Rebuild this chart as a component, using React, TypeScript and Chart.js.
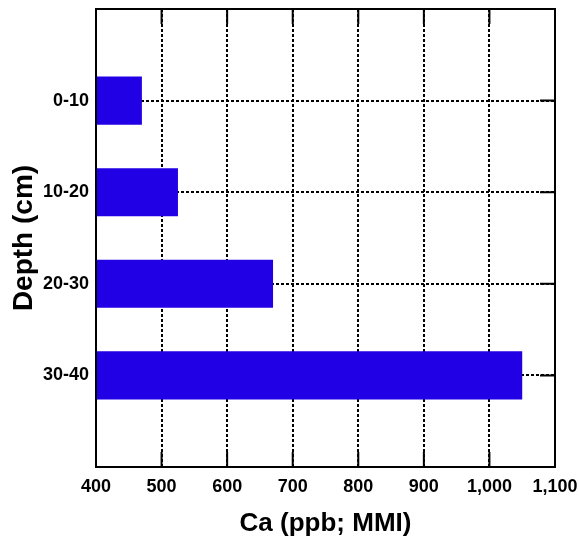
import React, { useEffect, useRef } from "react";
import { Chart, registerables } from "chart.js";

Chart.register(...registerables);

const depthCategories = ["0-10", "10-20", "20-30", "30-40"];
const caValues = [470, 525, 670, 1050];
const xMin = 400;
const xMax = 1100;
const xStep = 100;
const xTitle = "Ca (ppb; MMI)";
const yTitle = "Depth (cm)";

const FONT = "'Liberation Sans', Arial, Helvetica, sans-serif";

const framePlugin = {
  id: "frameTicks",
  beforeDatasetsDraw(chart: any) {
    const { ctx, chartArea, scales } = chart;
    const L = 15;
    ctx.save();
    ctx.strokeStyle = "#000";
    ctx.lineWidth = 2;
    ctx.setLineDash([]);
    ctx.beginPath();
    scales.x.ticks.forEach((t: any) => {
      const px = scales.x.getPixelForValue(t.value);
      ctx.moveTo(px, chartArea.top);
      ctx.lineTo(px, chartArea.top + L);
      ctx.moveTo(px, chartArea.bottom);
      ctx.lineTo(px, chartArea.bottom - L);
    });
    scales.y.ticks.forEach((t: any, i: number) => {
      const py = scales.y.getPixelForTick(i);
      ctx.moveTo(chartArea.left, py);
      ctx.lineTo(chartArea.left + L, py);
      ctx.moveTo(chartArea.right, py);
      ctx.lineTo(chartArea.right - L, py);
    });
    ctx.stroke();
    ctx.restore();
  },
  afterDatasetsDraw(chart: any) {
    const { ctx, chartArea } = chart;
    ctx.save();
    ctx.strokeStyle = "#000";
    ctx.lineWidth = 2;
    ctx.setLineDash([]);
    ctx.strokeRect(
      chartArea.left,
      chartArea.top,
      chartArea.right - chartArea.left,
      chartArea.bottom - chartArea.top
    );
    ctx.restore();
  },
};

const zeroPadding = (scale: any) => {
  scale.paddingLeft = 0;
  scale.paddingRight = 0;
  scale.paddingTop = 0;
  scale.paddingBottom = 0;
};

export default function App() {
  const ref = useRef<HTMLCanvasElement | null>(null);

  useEffect(() => {
    if (!ref.current) return;
    const labels = ["", ...depthCategories, ""];
    const data = [null, ...caValues, null];
    const chart = new Chart(ref.current, {
      type: "bar",
      data: {
        labels,
        datasets: [
          {
            data,
            backgroundColor: "#2200e6",
            borderWidth: 0,
            barPercentage: 0.525,
            categoryPercentage: 1,
          },
        ],
      },
      options: {
        indexAxis: "y",
        animation: false,
        responsive: true,
        maintainAspectRatio: false,
        layout: { padding: { top: 9, right: 24, left: 0, bottom: 0 } },
        plugins: {
          legend: { display: false },
          tooltip: { enabled: false },
        },
        scales: {
          x: {
            type: "linear",
            min: xMin,
            max: xMax,
            ticks: {
              stepSize: xStep,
              color: "#000",
              padding: 9,
              font: { family: FONT, size: 18, weight: "bold" },
              callback: (v: any) => Number(v).toLocaleString("en-US"),
            },
            grid: {
              color: "#000",
              lineWidth: 2,
              drawTicks: false,
            },
            border: { display: false, dash: [3, 2] },
            title: {
              display: true,
              text: xTitle,
              color: "#000",
              font: { family: FONT, size: 26, weight: "bold" },
              padding: { top: 0, bottom: 7 },
            },
            afterFit: (scale: any) => {
              scale.height = 79;
              zeroPadding(scale);
            },
          },
          y: {
            type: "category",
            offset: false,
            ticks: {
              color: "#000",
              padding: 7,
              autoSkip: false,
              font: { family: FONT, size: 18, weight: "bold" },
            },
            grid: {
              color: "#000",
              lineWidth: 2,
              drawTicks: false,
              offset: false,
            },
            border: { display: false, dash: [3, 2] },
            title: {
              display: true,
              text: yTitle,
              color: "#000",
              font: { family: FONT, size: 28, weight: "bold" },
              padding: { top: 7, bottom: 0 },
            },
            afterFit: (scale: any) => {
              scale.width = 96;
              zeroPadding(scale);
            },
          },
        },
      },
      plugins: [framePlugin],
    });
    return () => chart.destroy();
  }, []);

  return (
    <div style={{ position: "absolute", left: 0, top: 0, width: 579, height: 546 }}>
      <canvas ref={ref} />
    </div>
  );
}
